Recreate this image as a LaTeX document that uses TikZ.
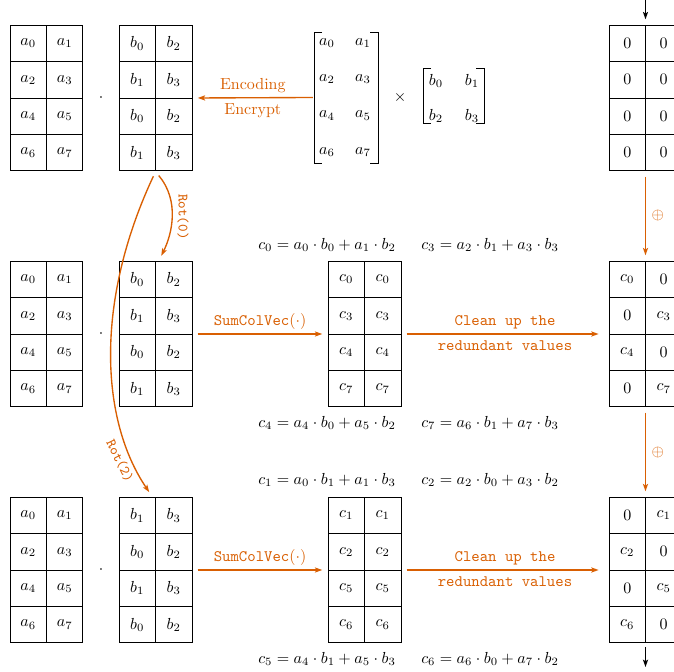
\documentclass[tikz,border=0pt]{standalone}
\usetikzlibrary{matrix,arrows.meta,calc}
\definecolor{orng}{RGB}{217,95,2}
\begin{document}
\begin{tikzpicture}[x=0.625pt,y=-0.625pt,
  grid/.style={matrix of math nodes,
    nodes={draw, line width=0.6pt, minimum width=22.8pt, minimum height=22.8pt, inner sep=0pt, anchor=center},
    column sep=-0.6pt, row sep=-0.6pt, inner sep=0pt},
  brk/.style={matrix of math nodes,
    nodes={minimum width=22.5pt, minimum height=22.8pt, inner sep=0pt, anchor=center},
    column sep=0pt, row sep=0pt, inner sep=0pt},
  brkline/.style={line width=0.5pt},
  tip/.style={-{Stealth[length=4.6pt,width=3.2pt,inset=1pt]}},
  oarr/.style={tip, draw=orng, line width=0.85pt},
  barr/.style={tip, draw=black, line width=0.75pt},
  olab/.style={text=orng},
  otlab/.style={text=orng, font=\ttfamily},
  rotlab/.style={text=orng, font=\ttfamily\small},
  eq/.style={inner sep=1pt}]
\useasboundingbox (0,0) rectangle (674,672);
\clip (0,0) rectangle (674,672);

% ---------- row 1 ----------
\matrix (A1) [grid] at (46.5,98) {a_0 & a_1\\ a_2 & a_3\\ a_4 & a_5\\ a_6 & a_7\\};
\node (dot1) at (101,98) {$\cdot$};
\matrix (B1) [grid] at (155.5,98) {b_0 & b_2\\ b_1 & b_3\\ b_0 & b_2\\ b_1 & b_3\\};
\matrix (MA) [brk] at (345,97.5) {a_0 & a_1\\ a_2 & a_3\\ a_4 & a_5\\ a_6 & a_7\\};
\draw[brkline] ($(MA.center)+(-23,-65.5)$) -- ++(-8,0) -- ++(0,131) -- ++(8,0);
\draw[brkline] ($(MA.center)+(25,-65.5)$) -- ++(8,0) -- ++(0,131) -- ++(-8,0);
\node (times) at (400,98) {$\times$};
\matrix (MB) [brk, nodes={minimum width=22.5pt, minimum height=21.9pt}] at (454,98.5) {b_0 & b_1\\ b_2 & b_3\\};
\draw[brkline] ($(MB.center)+(-23,-30.5)$) -- ++(-8,0) -- ++(0,55) -- ++(8,0);
\draw[brkline] ($(MB.center)+(22,-30.5)$) -- ++(8,0) -- ++(0,55) -- ++(-8,0);
\matrix (R1) [grid] at (645.5,98) {0 & 0\\ 0 & 0\\ 0 & 0\\ 0 & 0\\};

\draw[oarr, shorten >=3.1pt] ([xshift=2.6pt]MA.west) -- (B1.east)
  node[midway, above=-0.75pt, olab] (enc) {Encoding}
  node[midway, below=0pt, olab] (encr) {Encrypt};

\coordinate (topin) at (645.5,0);
\draw[barr, shorten >=3.1pt] (topin) -- (R1.north);

% ---------- row 2 ----------
\matrix (A2) [grid] at (46.5,334) {a_0 & a_1\\ a_2 & a_3\\ a_4 & a_5\\ a_6 & a_7\\};
\node (dot2) at (101,334) {$\cdot$};
\matrix (B2) [grid] at (155.5,334) {b_0 & b_2\\ b_1 & b_3\\ b_0 & b_2\\ b_1 & b_3\\};
\matrix (C2) [grid] at (364.5,334) {c_0 & c_0\\ c_3 & c_3\\ c_4 & c_4\\ c_7 & c_7\\};
\matrix (R2) [grid] at (645.5,334) {c_0 & 0\\ 0 & c_3\\ c_4 & 0\\ 0 & c_7\\};

\node[eq] (e0) at (327,245) {$c_0 = a_0 \cdot b_0 + a_1 \cdot b_2$};
\node[eq] (e3) at (490,245) {$c_3 = a_2 \cdot b_1 + a_3 \cdot b_3$};
\node[eq] (e4) at (327,423) {$c_4 = a_4 \cdot b_0 + a_5 \cdot b_2$};
\node[eq] (e7) at (490,423) {$c_7 = a_6 \cdot b_1 + a_7 \cdot b_3$};

\draw[oarr, shorten <=3.1pt, shorten >=3.1pt] (B2.east) -- (C2.west)
  node[midway, above=-0.75pt, olab] (scv2) {\texttt{SumColVec}$(\cdot)$};
\draw[oarr, shorten <=3.1pt, shorten >=6pt] (C2.east) -- (R2.west)
  node[midway, above=-0.75pt, otlab] (cl2a) {Clean up the}
  node[midway, below=0.75pt, otlab] (cl2b) {redundant values};
\draw[oarr, shorten <=3.1pt, shorten >=3.1pt] (R1.south) -- (R2.north)
  node[midway, right=0pt, olab] (op1) {$\oplus$};

% ---------- row 3 ----------
\matrix (A3) [grid] at (46.5,570) {a_0 & a_1\\ a_2 & a_3\\ a_4 & a_5\\ a_6 & a_7\\};
\node (dot3) at (101,570) {$\cdot$};
\matrix (B3) [grid] at (155.5,570) {b_1 & b_3\\ b_0 & b_2\\ b_1 & b_3\\ b_0 & b_2\\};
\matrix (C3) [grid] at (364.5,570) {c_1 & c_1\\ c_2 & c_2\\ c_5 & c_5\\ c_6 & c_6\\};
\matrix (R3) [grid] at (645.5,570) {0 & c_1\\ c_2 & 0\\ 0 & c_5\\ c_6 & 0\\};

\node[eq] (e1) at (327,480) {$c_1 = a_0 \cdot b_1 + a_1 \cdot b_3$};
\node[eq] (e2) at (490,480) {$c_2 = a_2 \cdot b_0 + a_3 \cdot b_2$};
\node[eq] (e5) at (327,659) {$c_5 = a_4 \cdot b_1 + a_5 \cdot b_3$};
\node[eq] (e6) at (490,659) {$c_6 = a_6 \cdot b_0 + a_7 \cdot b_2$};

\draw[oarr, shorten <=3.1pt, shorten >=3.1pt] (B3.east) -- (C3.west)
  node[midway, above=-0.75pt, olab] (scv3) {\texttt{SumColVec}$(\cdot)$};
\draw[oarr, shorten <=3.1pt, shorten >=6pt] (C3.east) -- (R3.west)
  node[midway, above=-0.75pt, otlab] (cl3a) {Clean up the}
  node[midway, below=0.75pt, otlab] (cl3b) {redundant values};
\draw[oarr, shorten <=3.1pt, shorten >=3.1pt] (R2.south) -- (R3.north)
  node[midway, right=0pt, olab] (op2) {$\oplus$};

\coordinate (botout) at (645.5,667);
\draw[barr, shorten <=2pt] (R3.south) -- (botout);

% ---------- rotations ----------
\draw[oarr, shorten <=3.1pt, shorten >=3.1pt] (B1.south) .. controls +(24.5,29) and +(13,-26) .. ([xshift=2.2pt]B2.north);
\node[rotlab, rotate=-90] (rot0) at (183,217) {Rot(0)};
\draw[oarr, shorten <=3.1pt, shorten >=3.1pt] (B1.south) .. controls +(-60.5,129) and +(-52,-77) .. ([xshift=-2.2pt]B3.north);
\node[rotlab, rotate=-64] (rot2) at (120,461) {Rot(2)};
\end{tikzpicture}
\end{document}
